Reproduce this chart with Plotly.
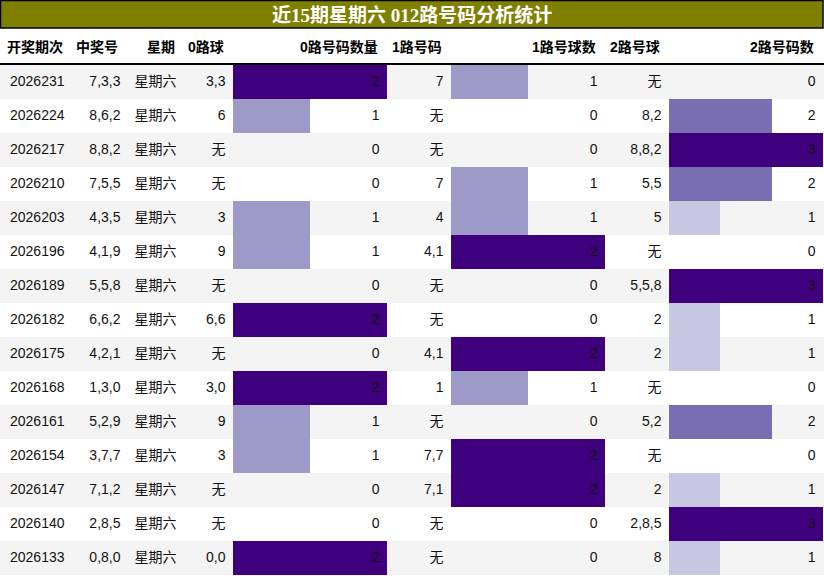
import plotly.graph_objects as go

periods = ["2026231", "2026224", "2026217", "2026210", "2026203", "2026196", "2026189", "2026182",
           "2026175", "2026168", "2026161", "2026154", "2026147", "2026140", "2026133"]
nums = ["7,3,3", "8,6,2", "8,8,2", "7,5,5", "4,3,5", "4,1,9", "5,5,8", "6,6,2", "4,2,1", "1,3,0",
        "5,2,9", "3,7,7", "7,1,2", "2,8,5", "0,8,0"]
weekday = ["星期六"] * 15
r0_balls = ["3,3", "6", "无", "无", "3", "9", "无", "6,6", "无", "3,0", "9", "3", "无", "无", "0,0"]
r0_count = [2, 1, 0, 0, 1, 1, 0, 2, 0, 2, 1, 1, 0, 0, 2]
r1_balls = ["7", "无", "无", "7", "4", "4,1", "无", "无", "4,1", "1", "无", "7,7", "7,1", "无", "无"]
r1_count = [1, 0, 0, 1, 1, 2, 0, 0, 2, 1, 0, 2, 2, 0, 0]
r2_balls = ["无", "8,2", "8,8,2", "5,5", "5", "无", "5,5,8", "2", "2", "无", "5,2", "无", "2", "2,8,5", "8"]
r2_count = [0, 2, 3, 2, 1, 0, 3, 1, 1, 0, 2, 0, 1, 3, 1]
headers = ["开奖期次", "中奖号", "星期", "0路球", "0路号码数量", "1路号码", "1路号球数", "2路号球", "2路号码数"]
title = "近15期星期六 012路号码分析统计"

W, H = 824, 576
col_edges = [0, 72, 128, 184, 233, 387, 451, 605, 669, 823]
PAD = 7.5
TITLE_H = 28
HEAD_B = 64
ROW_TOP = 65
ROW_BOT = 575

FONT = "Liberation Sans, Arial, Noto Sans CJK SC, sans-serif"
TXT = dict(family=FONT, size=14, color="#111111")

n = len(periods)
idx = list(range(n))
text_cols = {0: periods, 1: nums, 2: weekday, 3: r0_balls, 5: r1_balls, 7: r2_balls}
bar_sets = [(r0_count, "x2", 4), (r1_count, "x3", 6), (r2_count, "x4", 8)]

fig = go.Figure()

# plain text columns
for ci, col in text_cols.items():
    fig.add_trace(go.Scatter(
        x=[col_edges[ci + 1] - PAD] * n, y=idx, mode="text", text=col,
        textposition="middle left", textfont=TXT,
        xaxis="x", yaxis="y", hoverinfo="skip", showlegend=False))

# data bar columns with their value labels
for vals, xa, ci in bar_sets:
    vmax = max(vals)
    colw = col_edges[ci + 1] - col_edges[ci]
    fig.add_trace(go.Bar(
        x=vals, y=idx, orientation="h", xaxis=xa, yaxis="y", width=1,
        marker=dict(color=vals, colorscale="Purples", cmin=0, cmax=vmax, line=dict(width=0)),
        hoverinfo="skip", showlegend=False))
    fig.add_trace(go.Scatter(
        x=[vmax * (1 - PAD / colw)] * n, y=idx, mode="text", text=[str(v) for v in vals],
        textposition="middle left", textfont=TXT,
        xaxis=xa, yaxis="y", hoverinfo="skip", showlegend=False))

ydom = [1 - ROW_BOT / H, 1 - ROW_TOP / H]
layout_axes = dict(
    xaxis=dict(domain=[0, 1], range=[0, W], visible=False, fixedrange=True),
    yaxis=dict(domain=ydom, range=[n - 0.5, -0.5], visible=False, fixedrange=True),
)
for vals, xa, ci in bar_sets:
    layout_axes["xaxis" + xa[1:]] = dict(domain=[col_edges[ci] / W, col_edges[ci + 1] / W],
                                         range=[0, max(vals)], visible=False, anchor="y", fixedrange=True)

shapes = []
for i in idx:
    if i % 2 == 0:
        shapes.append(dict(type="rect", xref="paper", yref="y", x0=0, x1=1, y0=i - 0.5, y1=i + 0.5,
                           fillcolor="#f4f4f4", line=dict(width=0), layer="below"))
shapes.append(dict(type="rect", xref="paper", yref="paper", x0=0.5 / W, x1=(W - 1) / W,
                   y0=1 - TITLE_H / H, y1=1 - 0.5 / H, fillcolor="#808000",
                   line=dict(color="#000000", width=1.5), layer="below"))
shapes.append(dict(type="line", xref="paper", yref="paper", x0=0, x1=1,
                   y0=1 - HEAD_B / H, y1=1 - HEAD_B / H, line=dict(color="#000000", width=2)))

annotations = [dict(text="<b>" + title + "</b>", xref="paper", yref="paper", x=0.5,
                    y=1 - (TITLE_H / 2 + 1) / H, xanchor="center", yanchor="middle", showarrow=False,
                    font=dict(family="Liberation Serif, Noto Sans CJK SC, serif", size=19, color="#ffffff"))]
for ci, h in enumerate(headers):
    annotations.append(dict(text="<b>" + h + "</b>", xref="paper", yref="paper",
                            x=(col_edges[ci + 1] - PAD) / W, y=1 - 47 / H, xanchor="right", yanchor="middle",
                            showarrow=False, font=dict(family=FONT, size=14, color="#000000")))

fig.update_layout(
    width=W, height=H, margin=dict(l=0, r=0, t=0, b=0),
    paper_bgcolor="#ffffff", plot_bgcolor="rgba(0,0,0,0)",
    shapes=shapes, annotations=annotations, bargap=0, barmode="overlay",
    **layout_axes)

fig.write_html("out.html", config={"displayModeBar": False, "staticPlot": True})

with open("out.html", "r", encoding="utf-8") as f:
    html = f.read()
html = html.replace("<head>", "<head><style>html,body{margin:0;padding:0;overflow:hidden;}</style>", 1)
with open("out.html", "w", encoding="utf-8") as f:
    f.write(html)
